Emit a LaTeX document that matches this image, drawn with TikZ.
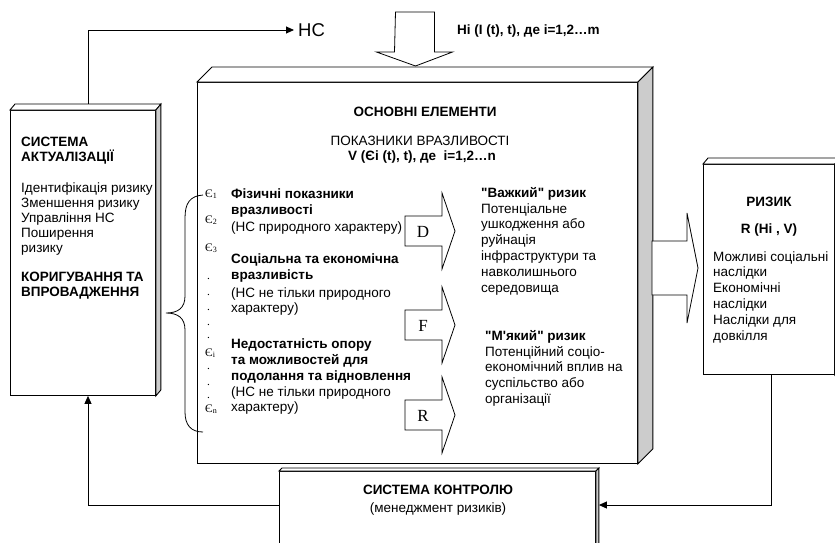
\documentclass[tikz,border=0pt]{standalone}
\usepackage{fontspec}
\setmainfont{Liberation Sans}
\newfontfamily\seriffont{Liberation Serif}
\usetikzlibrary{arrows.meta,calc}
\definecolor{shadegray}{HTML}{CCCCCC}
\begin{document}
\begin{tikzpicture}[x=1pt,y=-1pt,
  ln/.style={anchor=base west, inner sep=0pt, font=\fontsize{13.5}{16}\selectfont},
  lnb/.style={anchor=base west, inner sep=0pt, font=\fontsize{13.5}{16}\selectfont\bfseries},
  lnc/.style={anchor=base, inner sep=0pt, font=\fontsize{13.5}{16}\selectfont},
  lnbc/.style={anchor=base, inner sep=0pt, font=\fontsize{13.5}{16}\selectfont\bfseries},
  eps/.style={anchor=base west, inner sep=0pt, font=\fontsize{11.5}{13}\seriffont},
  face/.style={draw=black, line width=0.9pt, fill=white},
  sideface/.style={draw=black, line width=0.9pt, fill=shadegray},
  conn/.style={draw=black, line width=0.9pt},
  arr/.style={conn, -{Triangle[length=8pt,width=7pt]}},
  blockarrow/.style={draw=black, line width=0.8pt, fill=white},
  letter/.style={inner sep=0pt, font=\fontsize{17}{19}\seriffont},
]
\useasboundingbox (0,0) rectangle (835,542);

% ---------- left box: СИСТЕМА АКТУАЛІЗАЦІЇ ----------
\node[face, minimum width=145pt, minimum height=285pt, anchor=north west] (act) at (10,110) {};
\draw[face] (act.north west) -- ++(5,-6) -- ($(act.north east)+(5,-6)$) -- (act.north east) -- cycle;
\draw[sideface] (act.north east) -- ++(5,-6) -- ($(act.south east)+(5,-6)$) -- (act.south east) -- cycle;

% ---------- main box ----------
\node[face, minimum width=440pt, minimum height=381pt, anchor=north west] (main) at (197,82) {};
\draw[face] (main.north west) -- ++(15,-15) -- ($(main.north east)+(15,-15)$) -- (main.north east) -- cycle;
\draw[sideface] (main.north east) -- ++(15,-15) -- ($(main.south east)+(15,-15)$) -- (main.south east) -- cycle;

% ---------- right box: РИЗИК ----------
\node[face, minimum width=131pt, minimum height=210pt, anchor=north west] (risk) at (703,164) {};
\draw[face] (risk.north west) -- ++(5,-6) -- ($(risk.north east)+(5,-6)$) -- (risk.north east) -- cycle;
\draw[sideface] (risk.north east) -- ++(5,-6) -- ($(risk.south east)+(5,-6)$) -- (risk.south east) -- cycle;

% ---------- control box ----------
\node[face, minimum width=316pt, minimum height=90pt, anchor=north west] (ctrl) at (279,471) {};
\draw[face] (ctrl.north west) -- ++(3,-3) -- ($(ctrl.north east)+(3,-3)$) -- (ctrl.north east) -- cycle;
\draw[sideface] (ctrl.north east) -- ++(3,-3) -- ($(ctrl.south east)+(3,-3)$) -- (ctrl.south east) -- cycle;

% ---------- top: НС ----------
\node[inner sep=0pt, anchor=west, font=\fontsize{18.5}{20}\selectfont] (hc) at (298,30) {НС};
\coordinate (actup) at ($(act.north west)+(78,-6)$);
\draw[arr] (actup) |- ([xshift=-4pt]hc.west);

% ---------- top block arrow (input) ----------
\coordinate (inA) at (415,12);
\draw[blockarrow] (inA) ++(-19.5,0) -- ++(39,0) -- ++(0,40) -- ++(18,0) -- ++(-37,14) -- ++(-39,-14) -- ++(18,0) -- cycle;
\node[lnb] (hin) at (457,34) {Hi (I (t), t), де i=1,2…m};

% ---------- arrow main -> risk ----------
\coordinate (outA) at (652,268);
\draw[blockarrow] (outA) ++(0,-27) -- ++(35,0) -- ++(0,-28) -- ++(11,55) -- ++(-11,55) -- ++(0,-28) -- ++(-35,0) -- cycle;

% ---------- feedback connectors ----------
\draw[arr] ($(risk.south)+(2.5,0)$) |- ($(ctrl.north east)+(3,34)$);
\draw[arr] ($(ctrl.north west)+(0,34)$) -| ($(act.south west)+(78,0)$);

% ---------- left box text ----------
\node[lnb] (a1) at (21,146) {СИСТЕМА};
\node[lnb] (a2) at (21,161) {АКТУАЛІЗАЦІЇ};
\foreach \t [count=\i] in {Ідентифікація ризику, Зменшення ризику, Управління НС, Поширення, ризику}
  \node[ln] (al\i) at (21,{192+(\i-1)*15}) {\t};
\node[lnb] (a3) at (21,281) {КОРИГУВАННЯ ТА};
\node[lnb] (a4) at (21,296) {ВПРОВАДЖЕННЯ};

% ---------- main headings ----------
\node[lnbc] (m1) at (425,116) {ОСНОВНІ ЕЛЕМЕНТИ};
\node[lnc] (m2) at (420,145.5) {ПОКАЗНИКИ ВРАЗЛИВОСТІ};
\node[lnbc] (m3) at (422,160) {V (Єi (t), t), де\ \ i=1,2…n};

% ---------- brace ----------
\draw[line width=0.8pt] (203,195) .. controls (190,196) and (185,203) .. (185,218) -- (185,296)
  .. controls (185,308) and (178,313) .. (166,313) .. controls (178,313) and (185,318) .. (185,330)
  -- (185,412) .. controls (185,425) and (191,432) .. (203,432);

% ---------- epsilon labels ----------
\node[eps] (e1) at (205,197) {Є\textsubscript{1}};
\node[eps] (e2) at (205,223) {Є\textsubscript{2}};
\node[eps] (e3) at (205,251) {Є\textsubscript{3}};
\foreach \y [count=\i] in {279,295,310,325,338}
  \node[eps] (d\i) at (207,\y) {.};
\node[eps] (ei) at (205,356) {Є\textsubscript{i}};
\foreach \y [count=\i] in {369,385,398}
  \node[eps] (dd\i) at (207,\y) {.};
\node[eps] (en) at (205,412) {Є\textsubscript{n}};

% ---------- vulnerability items ----------
\node[lnb] (v1) at (231,198) {Фізичні показники};
\node[lnb] (v2) at (231,214) {вразливості};
\node[ln]  (v3) at (231,231) {(НС природного характеру)};
\node[lnb] (v4) at (231,263) {Соціальна та економічна};
\node[lnb] (v5) at (231,279) {вразливість};
\node[ln]  (v6) at (231,297) {(НС не тільки природного};
\node[ln]  (v7) at (231,312) {характеру)};
\node[lnb] (v8) at (231,348) {Недостатність опору};
\node[lnb] (v9) at (231,364) {та можливостей для};
\node[lnb] (v10) at (231,380) {подолання та відновлення};
\node[ln]  (v11) at (231,396) {(НС не тільки природного};
\node[ln]  (v12) at (231,411) {характеру)};

% ---------- D F R block arrows ----------
\foreach \nm/\cy in {D/231, F/325, R/415} {
  \coordinate (ba\nm) at (405,\cy);
  \draw[blockarrow] (ba\nm) ++(0,-15) -- ++(37,0) -- ++(0,-23) -- ++(13,38) -- ++(-13,38) -- ++(0,-23) -- ++(-37,0) -- cycle;
  \node[letter] (lt\nm) at (423,\cy+1) {\nm};
}

% ---------- risk kinds ----------
\node[lnb] (h1) at (481,197) {\textquotedbl Важкий\textquotedbl\ ризик};
\foreach \t [count=\i] in {Потенціальне, ушкодження або, руйнація, інфраструктури та, навколишнього, середовища}
  \node[ln] (hl\i) at (481,{213+(\i-1)*15.8}) {\t};
\node[lnb] (s1) at (485,340) {\textquotedbl М\textquotesingle який\textquotedbl\ ризик};
\foreach \t [count=\i] in {Потенційний соціо-, економічний вплив на, суспільство або, організації}
  \node[ln] (sl\i) at (485,{356+(\i-1)*15.8}) {\t};

% ---------- risk box text ----------
\node[lnbc] (r1) at (769,206) {РИЗИК};
\node[lnbc] (r2) at (769,233) {R (Hi , V)};
\foreach \t [count=\i] in {Можливі соціальні, наслідки, Економічні, наслідки, Наслідки для, довкілля}
  \node[ln] (rl\i) at (713,{261+(\i-1)*15.8}) {\t};

% ---------- control box text ----------
\node[lnbc] (c1) at (438,494) {СИСТЕМА КОНТРОЛЮ};
\node[lnc] (c2) at (438,512) {(менеджмент ризиків)};
\end{tikzpicture}
\end{document}
